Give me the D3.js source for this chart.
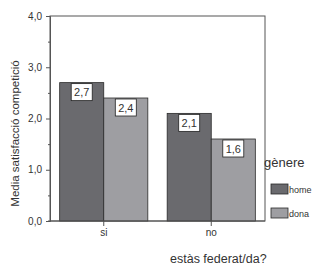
<!DOCTYPE html>
<html>
<head>
<meta charset="utf-8">
<script src="https://cdn.jsdelivr.net/npm/d3@7"></script>
<style>
  body { margin: 0; background: #fff; }
  svg text { font-family: "Liberation Sans", Arial, sans-serif; fill: #333; }
</style>
</head>
<body>
<svg id="chart"></svg>
<script>
const categories = ["si", "no"];
const groups = ["home", "dona"];
const homeValues = [2.7, 2.1];
const donaValues = [2.4, 1.6];
const yTicks = [0, 1, 2, 3, 4];
const valueLabels = v => d3.format(".1f")(v).replace(".", ",");

const width = 313, height = 265;
const margin = { top: 16, right: 48, bottom: 44, left: 50 };
const innerW = width - margin.left - margin.right;
const innerH = height - margin.top - margin.bottom;
const colors = { home: "#6a6a6e", dona: "#9e9ea2" };

const data = categories.map((c, i) => ({ cat: c, home: homeValues[i], dona: donaValues[i] }));

const svg = d3.select("#chart").attr("width", width).attr("height", height);
const g = svg.append("g").attr("transform", `translate(${margin.left},${margin.top})`);

const x = d3.scaleBand().domain(categories).range([0, innerW]).paddingInner(0.18).paddingOuter(0.09);
const xs = d3.scaleBand().domain(groups).range([0, x.bandwidth()]);
const y = d3.scaleLinear().domain([0, 4]).range([innerH, 0]);

// plot frame
g.append("rect").attr("x", 0).attr("y", 0).attr("width", innerW).attr("height", innerH)
  .attr("fill", "none").attr("stroke", "#555").attr("stroke-width", 1);

// y axis
g.append("g")
  .call(d3.axisLeft(y).tickValues(yTicks).tickSize(4).tickPadding(4).tickFormat(valueLabels))
  .call(a => a.select(".domain").attr("stroke", "#555"))
  .call(a => a.selectAll(".tick line").attr("stroke", "#555"))
  .call(a => a.selectAll(".tick text").style("font-size", "10px").attr("fill", "#444"));
g.append("g")
  .call(d3.axisLeft(y).tickValues([0.5, 1.5, 2.5, 3.5]).tickSize(2).tickFormat(""))
  .call(a => a.select(".domain").remove())
  .call(a => a.selectAll(".tick line").attr("stroke", "#555"));

// bars
const cat = g.selectAll(".cat").data(data).enter().append("g")
  .attr("transform", d => `translate(${x(d.cat)},0)`);
cat.selectAll("rect").data(d => groups.map(k => ({ key: k, value: d[k] }))).enter().append("rect")
  .attr("x", d => xs(d.key))
  .attr("y", d => y(d.value))
  .attr("width", xs.bandwidth())
  .attr("height", d => innerH - y(d.value))
  .attr("fill", d => colors[d.key])
  .attr("stroke", "#2a2a2a").attr("stroke-width", 0.8);

// value labels
const lab = cat.selectAll(".lab").data(d => groups.map(k => ({ key: k, value: d[k] }))).enter().append("g")
  .attr("transform", d => `translate(${xs(d.key) + xs.bandwidth() / 2},${y(d.value) + 1})`);
lab.append("rect").attr("x", -10.5).attr("y", 0).attr("width", 21).attr("height", 17)
  .attr("fill", "#fff").attr("stroke", "#222").attr("stroke-width", 0.8);
lab.append("text").attr("text-anchor", "middle").attr("y", 12.5)
  .style("font-size", "11px").attr("fill", "#222").text(d => valueLabels(d.value));

// x axis
g.append("g").attr("transform", `translate(0,${innerH})`)
  .call(d3.axisBottom(x).tickSize(5).tickPadding(3))
  .call(a => a.select(".domain").attr("d", `M-2,0H${innerW}`).attr("stroke", "#555"))
  .call(a => a.selectAll(".tick line").attr("stroke", "#555"))
  .call(a => a.selectAll(".tick text").style("font-size", "10px").attr("fill", "#444"));

// axis titles
svg.append("text").attr("transform", `translate(19,133.5) rotate(-90)`)
  .attr("text-anchor", "middle").style("font-size", "11.5px").attr("fill", "#444")
  .text("Media satisfacció competició");
svg.append("text").attr("x", 170).attr("y", 263)
  .style("font-size", "12.5px").attr("fill", "#444").text("estàs federat/da?");

// legend
svg.append("text").attr("x", 264).attr("y", 167).style("font-size", "13px").attr("fill", "#444").text("gènere");
const leg = svg.selectAll(".leg").data(groups).enter().append("g")
  .attr("transform", (d, i) => `translate(271,${184 + i * 24})`);
leg.append("rect").attr("width", 17).attr("height", 10)
  .attr("fill", d => colors[d]).attr("stroke", "#2a2a2a").attr("stroke-width", 0.8);
leg.append("text").attr("x", 18).attr("y", 8.5).style("font-size", "9px").attr("fill", "#333").text(d => d);
</script>
</body>
</html>
